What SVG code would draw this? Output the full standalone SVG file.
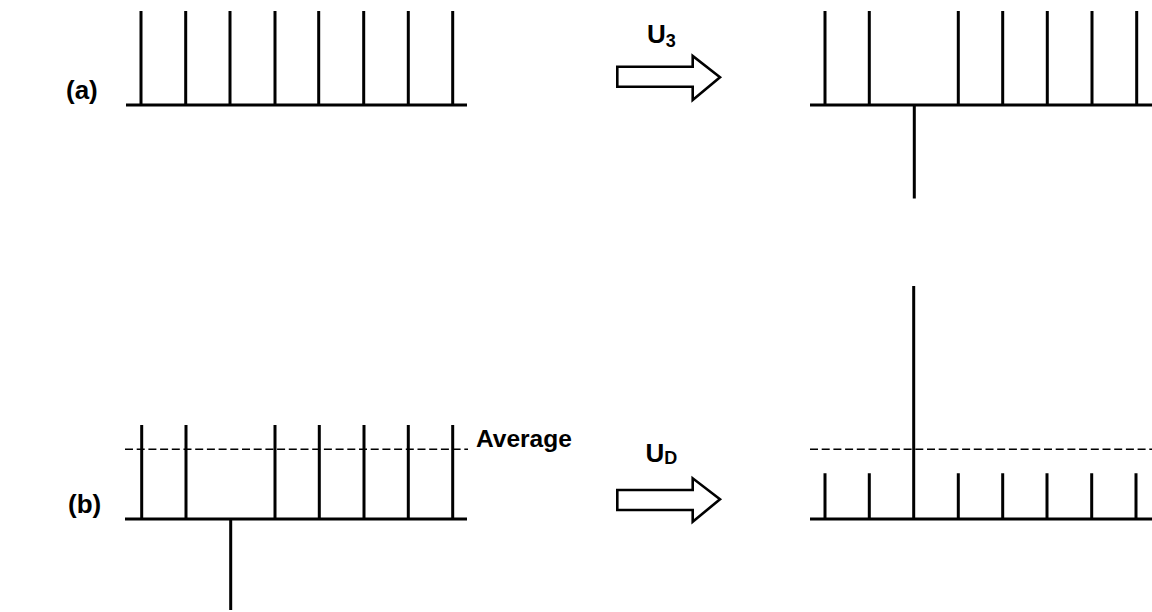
<svg xmlns="http://www.w3.org/2000/svg" width="1152" height="612" viewBox="0 0 1152 612">
<style>
.ln{stroke:#000;stroke-width:3;fill:none}
.dl{stroke:#000;stroke-width:1.6;stroke-dasharray:8 3.7;fill:none}
.ar{stroke:#000;stroke-width:2.6;fill:#fff;stroke-linejoin:miter}
text{font-family:"Liberation Sans",Arial,sans-serif;font-weight:bold;fill:#000}
</style>
<rect width="1152" height="612" fill="#fff"/>
<g id="label-a"><text x="66" y="99" font-size="26">(a)</text></g>
<g id="label-b"><text x="68" y="513" font-size="26">(b)</text></g>
<g id="a-left">
<path class="ln" d="M126 105H467M141 105V11M185.7 105V11M230 105V11M275 105V11M318.7 105V11M363.7 105V11M408.3 105V11M452.7 105V11"/>
</g>
<g id="a-right">
<path class="ln" d="M810 105H1152M825 105V11M869.3 105V11M958.3 105V11M1002.7 105V11M1047.3 105V11M1092 105V11M1136.7 105V11M914.3 105V198.5"/>
</g>
<g id="b-left">
<path class="ln" d="M125 519H467M141.7 519V425M186 519V425M275 519V425M319.3 519V425M364 519V425M408.3 519V425M452.7 519V425M230.7 519V610"/>
<path class="dl" d="M125 449.3H468"/>
<text x="476" y="446.7" font-size="24.5">Average</text>
</g>
<g id="b-right">
<path class="ln" d="M810 519H1152M825 519V473.3M869.3 519V473.3M958.3 519V473.3M1002.7 519V473.3M1047 519V473.3M1091.7 519V473.3M1136 519V473.3M913.7 519V286"/>
<path class="dl" d="M810 449.3H1152"/>
</g>
<g id="connectors">
<g id="arrow-u3">
<polygon class="ar" points="617.3,66.7 692.7,66.7 692.7,56 720,77.3 692.7,100 692.7,86.7 617.3,86.7"/>
<text x="647" y="42.7" font-size="26">U<tspan font-size="18" dy="4">3</tspan></text>
</g>
<g id="arrow-ud">
<polygon class="ar" points="617.3,490 692.7,490 692.7,478.3 720,499.3 692.7,521.7 692.7,510 617.3,510"/>
<text x="645.5" y="461.7" font-size="26">U<tspan font-size="18" dy="2.6">D</tspan></text>
</g>
</g>
</svg>
